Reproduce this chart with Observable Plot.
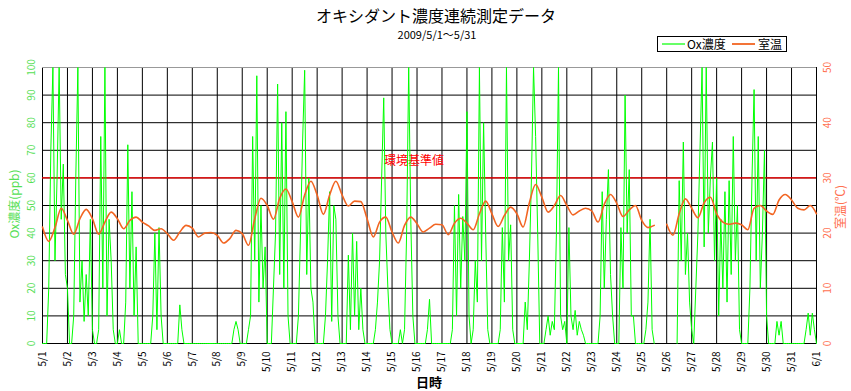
<!DOCTYPE html>
<html><head><meta charset="utf-8">
<script src="https://cdn.jsdelivr.net/npm/d3@7"></script>
<script src="https://cdn.jsdelivr.net/npm/@observablehq/plot@0.6"></script>
<style>
body{margin:0;background:#fff;font-family:"Noto Sans CJK JP","Noto Sans",sans-serif;}
#wrap{position:relative;width:851px;height:391px;overflow:hidden;}
.abs{position:absolute;white-space:nowrap;line-height:1;}
.rot{transform:translate(-50%,-50%) rotate(-90deg);}
</style></head><body><div id="wrap"></div>
<script>
// ---- data ----
const titleText = "オキシダント濃度連続測定データ";
const subtitleText = "2009/5/1～5/31";
const xLabels = ["5/1","5/2","5/3","5/4","5/5","5/6","5/7","5/8","5/9","5/10","5/11","5/12","5/13","5/14","5/15","5/16","5/17","5/18","5/19","5/20","5/21","5/22","5/23","5/24","5/25","5/26","5/27","5/28","5/29","5/30","5/31","6/1"];
const leftTicks = [0,10,20,30,40,50,60,70,80,90,100];
const rightTicks = [0,10,20,30,40,50];
const limitValue = 60;
const limitLabel = "環境基準値";
// Ox concentration (ppb), every 2 hours from 5/1 0:00
const ox = [
 0,0,0,20,70,100,30,60,100,45,65,25,
 20,0,0,10,60,100,15,30,8,25,10,45,
 5,0,0,5,75,20,100,10,45,30,5,0,
 0,5,0,0,15,72,20,55,10,35,0,0,
 0,0,0,0,0,10,40,5,42,10,0,0,
 0,0,0,0,0,0,14,5,0,0,0,0,
 0,0,0,0,0,0,0,0,0,0,0,0,
 0,0,0,0,0,0,0,0,5,8,5,0,
 0,0,0,5,10,75,30,97,15,50,20,35,
 0,0,0,20,40,94,25,80,20,84,10,0,
 0,0,0,10,40,73,99,25,60,20,15,0,
 0,0,0,0,10,30,55,8,50,45,10,0,
 0,0,0,32,5,40,10,37,5,20,5,0,
 0,0,0,0,5,15,30,60,89,40,20,5,
 0,0,0,0,5,0,5,40,100,45,10,0,
 0,0,0,0,0,5,16,0,0,0,0,0,
 0,0,0,0,0,5,50,10,54,20,46,30,
 84,10,0,5,30,15,100,30,80,40,5,0,
 0,0,0,0,5,42,15,100,30,43,5,0,
 0,0,0,0,15,5,30,60,100,75,40,0,
 0,0,5,10,3,8,5,40,100,10,5,8,
 0,42,10,5,12,3,8,5,3,0,0,0,
 0,0,0,0,10,55,20,45,63,25,10,0,
 0,0,42,20,90,40,63,10,10,0,0,0,
 0,0,5,15,45,5,0,null,null,null,null,null,
 null,null,null,null,null,0,59,30,73,25,40,15,
 5,0,20,40,70,100,35,100,40,60,73,30,
 60,10,45,20,55,15,59,25,75,30,50,5,
 0,0,0,0,20,60,92,30,75,20,40,70,
 10,0,0,0,0,8,3,8,0,0,0,0,
 0,0,0,0,0,0,0,5,11,3,11,5,
 0
];
// Room temperature (°C), every 6 hours from 5/1 0:00
const temp = [
 21.1,18.5,21,24.5,
 22.3,19.8,22.6,24.3,
 22.6,19.8,22,23.8,
 22.6,20.8,22.3,22.9,
 22,21.3,20.5,20.8,
 19.9,18.7,20.2,21.4,
 20.9,19.3,20,20.1,
 19.6,18.2,19,20.5,
 19.9,17.8,22.6,26.3,
 25,22.5,26.3,28,
 25.7,22.9,26.9,29.4,
 26.9,23.4,26.9,29.4,
 26.9,24.9,25.8,25.7,
 22.6,19.3,22,22.9,
 20.2,18.2,21.4,22.9,
 21.7,20.2,20.9,21.6,
 21.5,19.7,21.8,22.7,
 21.8,20.6,23.5,25.8,
 23.5,21.2,23.2,24.7,
 23.5,21.1,25.5,28.8,
 26.5,23.8,25,26.8,
 25,23.3,24,24.5,
 24,22,25.2,27,
 25.4,23,24.2,25,
 22.3,21,21.4,null,
 21.6,19.6,23.5,26.2,
 24.5,22.8,25.5,26.5,
 23.5,22,21.6,21.8,
 21.5,20.6,24.5,25,
 24,23.4,26,27,
 26,24.5,24.2,25,
 23.5
];

// ---- build ----
const oxRows = ox.map((v, i) => ({t: i / 12, v}));
const tempRows = temp.map((v, i) => ({t: i / 4, v}));
const dayTicks = d3.range(xLabels.length);
const font = '"Noto Sans CJK JP","Noto Sans",sans-serif';

const chart = Plot.plot({
  width: 851, height: 391,
  marginLeft: 42, marginRight: 35, marginTop: 67, marginBottom: 48,
  x: {domain: [0, 31]},
  y: {domain: [0, 100]},
  style: {fontFamily: font, fontSize: "10px", background: "white", overflow: "visible"},
  marks: [
    Plot.gridX(dayTicks, {stroke: "#000", strokeOpacity: 1}),
    Plot.gridY(leftTicks.filter(d => d < 100), {stroke: "#000", strokeOpacity: 1}),
    Plot.ruleY([100], {stroke: "#999"}),
    Plot.axisX(dayTicks, {anchor: "bottom", tickRotate: -90, tickSize: 0, tickPadding: 8,
      tickFormat: i => xLabels[i], label: null, fill: "#000", fontSize: 10}),
    Plot.axisY(leftTicks, {anchor: "left", tickRotate: -90, tickSize: 0, tickPadding: 8,
      label: null, color: "#55e055", fontSize: 10}),
    Plot.axisY(rightTicks.map(d => d * 2), {anchor: "right", tickRotate: -90, tickSize: 0, tickPadding: 14,
      tickFormat: d => d / 2, label: null, color: "#ff7050", fontSize: 10}),
    Plot.ruleY([limitValue], {stroke: "#ff0000", strokeWidth: 1.2}),
    Plot.text([limitLabel], {x: 14.88, y: 66, text: d => d, fill: "#ff0000", fontSize: 12}),
    Plot.line(oxRows, {x: "t", y: "v", stroke: "#00ff00", strokeWidth: 1}),
    Plot.line(tempRows, {x: "t", y: d => d.v == null ? NaN : d.v * 2,
      stroke: "#f26522", strokeWidth: 1.6, curve: "monotone-x"})
  ]
});

const wrap = document.getElementById("wrap");
wrap.appendChild(chart);
function add(html, css, cls) {
  const el = document.createElement("div");
  el.className = "abs " + (cls || "");
  el.innerHTML = html;
  Object.assign(el.style, css);
  wrap.appendChild(el);
  return el;
}
add(titleText, {left: "436px", top: "15px", fontSize: "16px", color: "#000", transform: "translate(-50%,-50%)"});
add(subtitleText, {left: "437px", top: "34px", fontSize: "11px", color: "#000", transform: "translate(-50%,-50%)"});
add("Ox濃度(ppb)", {left: "14px", top: "204px", fontSize: "12px", color: "#55e055"}, "rot");
add("室温(℃)", {left: "840px", top: "207px", fontSize: "12px", color: "#ff7050"}, "rot");
add("日時", {left: "429px", top: "381px", fontSize: "13px", fontWeight: "bold", color: "#000", transform: "translate(-50%,-50%)"});
add(`<svg width="130" height="16" style="display:block">
  <rect x="0.5" y="0.5" width="129" height="15" fill="white" stroke="black"/>
  <line x1="5" x2="28" y1="8" y2="8" stroke="#00ff00" stroke-width="1.2"/>
  <text x="30" y="12.5" font-size="12" font-family='${font}'>Ox濃度</text>
  <line x1="75" x2="98" y1="8" y2="8" stroke="#f26522" stroke-width="1.8"/>
  <text x="101" y="12.5" font-size="12" font-family='${font}'>室温</text>
</svg>`, {left: "657px", top: "36px"});
</script></body></html>
